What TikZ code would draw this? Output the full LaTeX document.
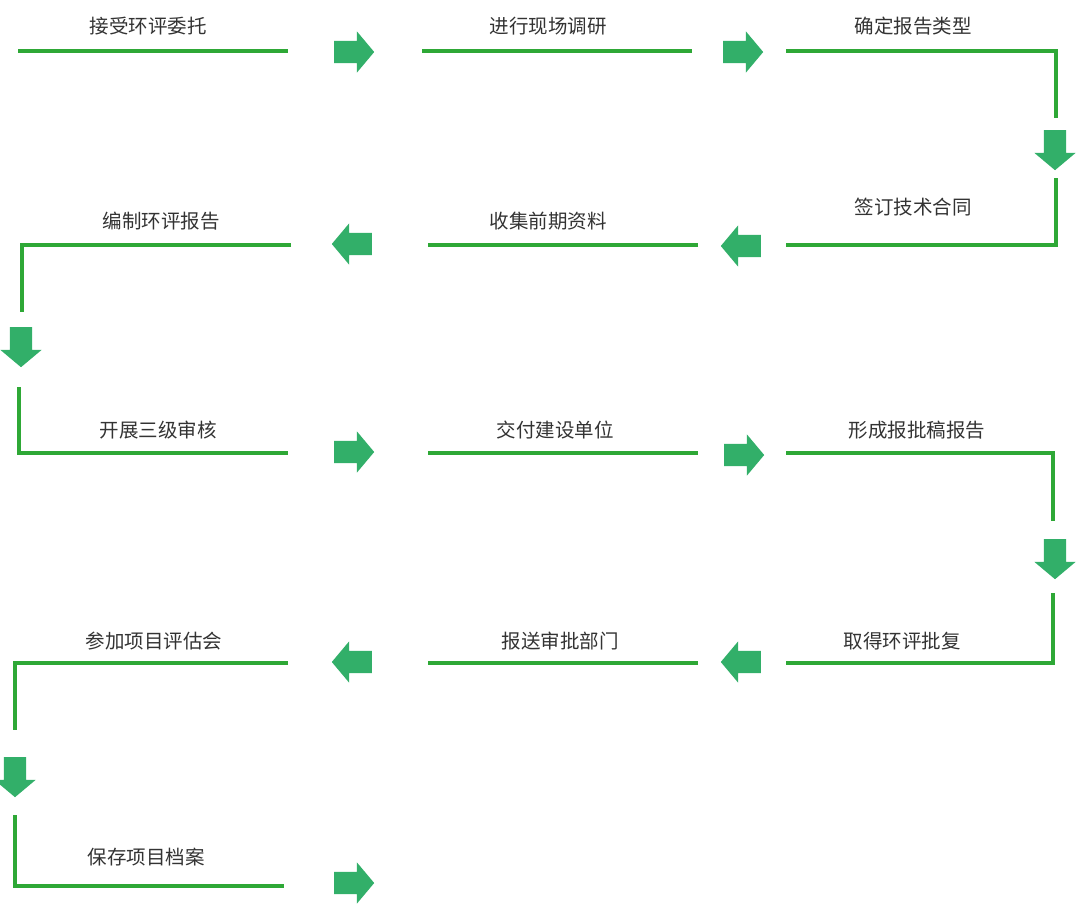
\documentclass[tikz,border=0pt]{standalone}
\usepackage{fontspec}
\usepackage{tikz}
\usetikzlibrary{shapes.arrows}
\newfontfamily\cjk{Noto Sans CJK SC}
\definecolor{linegreen}{RGB}{46,168,54}
\definecolor{arrgreen}{RGB}{50,175,105}
\definecolor{txtgrey}{RGB}{51,51,51}
\tikzset{flow/.style={draw=linegreen,line width=4pt}}
\tikzset{blk/.style={single arrow,fill=arrgreen,draw=none,inner sep=0pt,inner ysep=11pt,
    minimum height=40pt,single arrow head extend=9.5pt,single arrow tip angle=100,anchor=tail}}
\tikzset{lbl/.style={text=txtgrey,font=\cjk\fontsize{19.5}{22}\selectfont,inner sep=0pt}}

\begin{document}
\begin{tikzpicture}[x=1pt,y=-1pt]
    \useasboundingbox (0,0) rectangle (1090,922);
    % labels
    \node[lbl] (S1) at (148,26.5) {接受环评委托};
    \node[lbl] (S2) at (548,26.5) {进行现场调研};
    \node[lbl] (S3) at (913,26.5) {确定报告类型};
    \node[lbl] (S4) at (913,207.5) {签订技术合同};
    \node[lbl] (S5) at (548,221) {收集前期资料};
    \node[lbl] (S6) at (161,221) {编制环评报告};
    \node[lbl] (S7) at (158,430.5) {开展三级审核};
    \node[lbl] (S8) at (555,430.5) {交付建设单位};
    \node[lbl] (S9) at (917,430.5) {形成报批稿报告};
    \node[lbl] (S10) at (902,641) {取得环评批复};
    \node[lbl] (S11) at (560,641) {报送审批部门};
    \node[lbl] (S12) at (154,641) {参加项目评估会};
    \node[lbl] (S13) at (146,857) {保存项目档案};
    % block arrows
    \node[blk] (R1) at (334,52) {};
    \node[blk] (R2) at (723,52) {};
    \node[blk,rotate=-90] (D1) at (1055,130) {};
    \node[blk,rotate=180] (L1) at (761,246) {};
    \node[blk,rotate=180] (L2) at (372,244) {};
    \node[blk,rotate=-90] (D2) at (21,327) {};
    \node[blk] (R3) at (334,452) {};
    \node[blk] (R4) at (724,455) {};
    \node[blk,rotate=-90] (D3) at (1055,539) {};
    \node[blk,rotate=180] (L3) at (761,662) {};
    \node[blk,rotate=180] (L4) at (372,662) {};
    \node[blk,rotate=-90] (D4) at (15,757) {};
    \node[blk] (R5) at (334,883) {};
    % line ends
    \coordinate (a1) at (18,51);    \coordinate (b1) at (288,51);
    \coordinate (a2) at (422,51);   \coordinate (b2) at (692,51);
    \coordinate (a3) at (786,51);   \coordinate (b3) at (1056,118);
    \coordinate (a4) at (1056,178); \coordinate (b4) at (786,245);
    \coordinate (a5) at (698,245);  \coordinate (b5) at (428,245);
    \coordinate (a6) at (291,245);  \coordinate (b6) at (22,312);
    \coordinate (a7) at (19,387);   \coordinate (b7) at (288,453);
    \coordinate (a8) at (428,453);  \coordinate (b8) at (698,453);
    \coordinate (a9) at (786,453);  \coordinate (b9) at (1053,521);
    \coordinate (a10) at (1053,593); \coordinate (b10) at (786,663);
    \coordinate (a11) at (698,663); \coordinate (b11) at (428,663);
    \coordinate (a12) at (288,663); \coordinate (b12) at (15,730);
    \coordinate (a13) at (15,815);  \coordinate (b13) at (284,886);
    \draw[flow] (a1) -- (b1);
    \draw[flow] (a2) -- (b2);
    \draw[flow] (a3) -| (b3);
    \draw[flow] (a4) |- (b4);
    \draw[flow] (a5) -- (b5);
    \draw[flow] (a6) -| (b6);
    \draw[flow] (a7) |- (b7);
    \draw[flow] (a8) -- (b8);
    \draw[flow] (a9) -| (b9);
    \draw[flow] (a10) |- (b10);
    \draw[flow] (a11) -- (b11);
    \draw[flow] (a12) -| (b12);
    \draw[flow] (a13) |- (b13);
  \end{tikzpicture}
\end{document}
